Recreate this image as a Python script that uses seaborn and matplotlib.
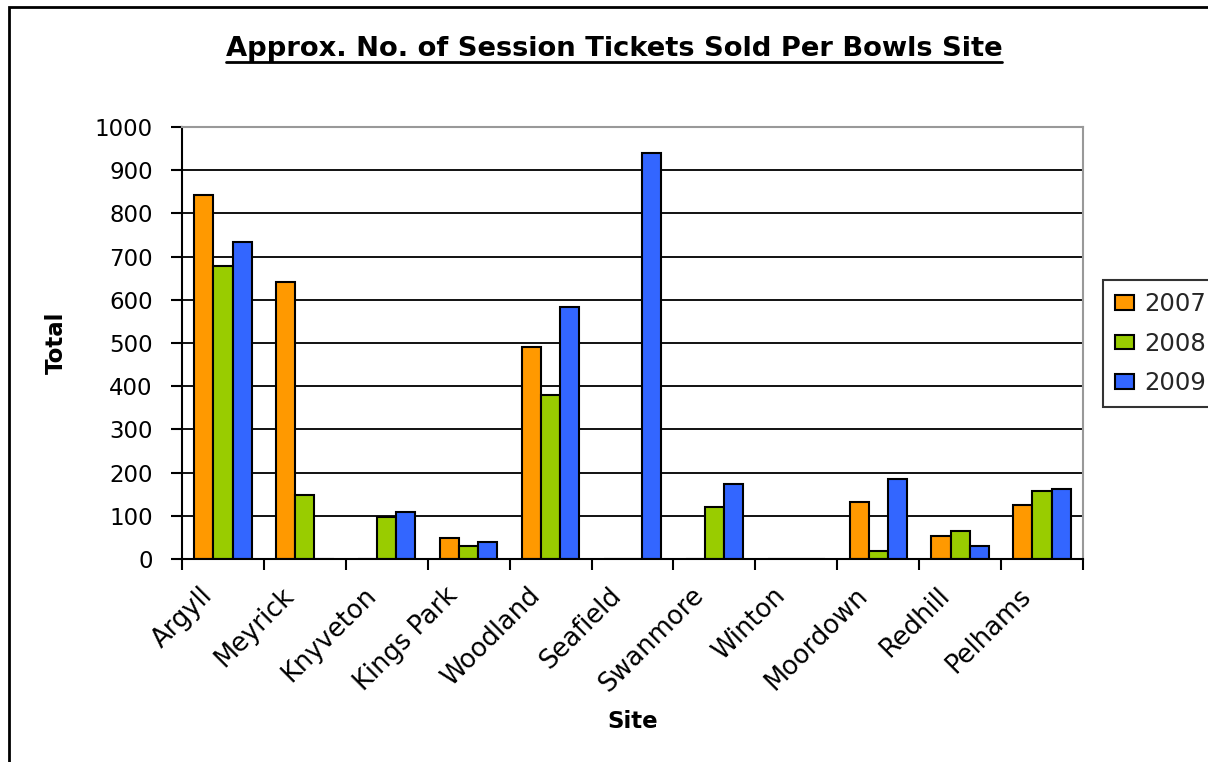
import matplotlib
matplotlib.use("Agg")
import matplotlib.pyplot as plt
from matplotlib.patches import Rectangle
from matplotlib.lines import Line2D
from matplotlib.ticker import FixedLocator, MultipleLocator
import seaborn as sns
import pandas as pd

sites = ["Argyll", "Meyrick", "Knyveton", "Kings Park", "Woodland", "Seafield",
         "Swanmore", "Winton", "Moordown", "Redhill", "Pelhams"]
years = ["2007", "2008", "2009"]
sold_2007 = [843, 641, 0, 49, 491, 0, 0, 0, 133, 53, 124]
sold_2008 = [678, 149, 97, 29, 379, 0, 121, 0, 19, 64, 158]
sold_2009 = [734, 0, 109, 39, 584, 940, 174, 0, 186, 29, 161]
colors = ["#FF9900", "#99CC00", "#3366FF"]

rows = []
for year, vals in zip(years, [sold_2007, sold_2008, sold_2009]):
    for site, v in zip(sites, vals):
        rows.append({"Site": site, "Year": year, "Total": v})
df = pd.DataFrame(rows)

sns.set_theme(style="white")
plt.rcParams["font.family"] = ["DejaVu Sans"]

W, H = 1208, 762
fig = plt.figure(figsize=(W / 100, H / 100), dpi=100)
ax = fig.add_axes([182 / W, 1 - 559 / H, 901 / W, 432 / H])

sns.barplot(data=df, x="Site", y="Total", hue="Year", order=sites,
            hue_order=years, palette=colors, width=0.7, ax=ax,
            edgecolor="black", linewidth=1.5, saturation=1, errorbar=None,
            legend=False)

ax.set_xlim(-0.5, len(sites) - 0.5)
ax.set_ylim(0, 1000)
ax.yaxis.set_major_locator(MultipleLocator(100))
ax.grid(axis="y", color="#111111", linewidth=1.4)
ax.set_axisbelow(True)

for side in ["top", "right"]:
    ax.spines[side].set_color("#999999")
    ax.spines[side].set_linewidth(1.5)
for side in ["left", "bottom"]:
    ax.spines[side].set_color("black")
    ax.spines[side].set_linewidth(1.5)

tick_fs = 16.5
ax.tick_params(axis="y", direction="out", length=8, width=1.5, color="black",
               labelsize=tick_fs, pad=13, left=True)

# category labels sit a little left of each group centre, boundary ticks between groups
label_pos = [i - 0.29 for i in range(len(sites))]
ax.set_xticks(label_pos)
ax.set_xticklabels(sites)
ax.tick_params(axis="x", which="major", length=0, labelsize=18.5, pad=17)
ax.xaxis.set_minor_locator(FixedLocator([i - 0.5 for i in range(len(sites) + 1)]))
ax.tick_params(axis="x", which="minor", direction="out", length=8, width=1.5,
               color="black", bottom=True)
for lbl in ax.get_xticklabels():
    lbl.set_rotation(45)
    lbl.set_ha("right")
    lbl.set_va("top")
    lbl.set_rotation_mode("anchor")
    lbl.set_color("black")
for lbl in ax.get_yticklabels():
    lbl.set_color("black")

ax.set_xlabel("Site", fontsize=tick_fs, fontweight="bold", color="black")
ax.set_ylabel("Total", fontsize=tick_fs, fontweight="bold", color="black")
ax.xaxis.set_label_coords((633 - 182) / 901, -(722 - 559) / 432)
ax.yaxis.set_label_coords(-(182 - 56) / 901, 0.5)
ax.xaxis.label.set_va("center")
ax.yaxis.label.set_va("center")

# legend
handles = [Rectangle((0, 0), 1, 1, facecolor=c, edgecolor="black", linewidth=1.5)
           for c in colors]
leg = fig.legend(handles, years, loc="upper left",
                 bbox_to_anchor=(1103 / W, 1 - 280 / H), frameon=True,
                 fancybox=False, edgecolor="black", fontsize=17.5,
                 handlelength=0.78, handleheight=0.55, handletextpad=0.4,
                 labelspacing=0.64, borderpad=0.5, borderaxespad=0)
leg.get_frame().set_linewidth(1.5)

# outer chart frame
fig.patches.append(Rectangle((9 / W, -0.1), 1.2, (H - 7) / H + 0.1,
                             transform=fig.transFigure, fill=False,
                             edgecolor="black", linewidth=2))

# underlined title
title = fig.text(614 / W, 1 - 49 / H, "Approx. No. of Session Tickets Sold Per Bowls Site",
                 ha="center", va="center", fontsize=19.7, fontweight="bold",
                 color="black")
fig.canvas.draw()
bb = title.get_window_extent().transformed(fig.transFigure.inverted())
fig.lines.append(Line2D([bb.x0, bb.x1], [1 - 62 / H, 1 - 62 / H],
                        transform=fig.transFigure, color="black", linewidth=2))

fig.savefig("out.png", dpi=100)
